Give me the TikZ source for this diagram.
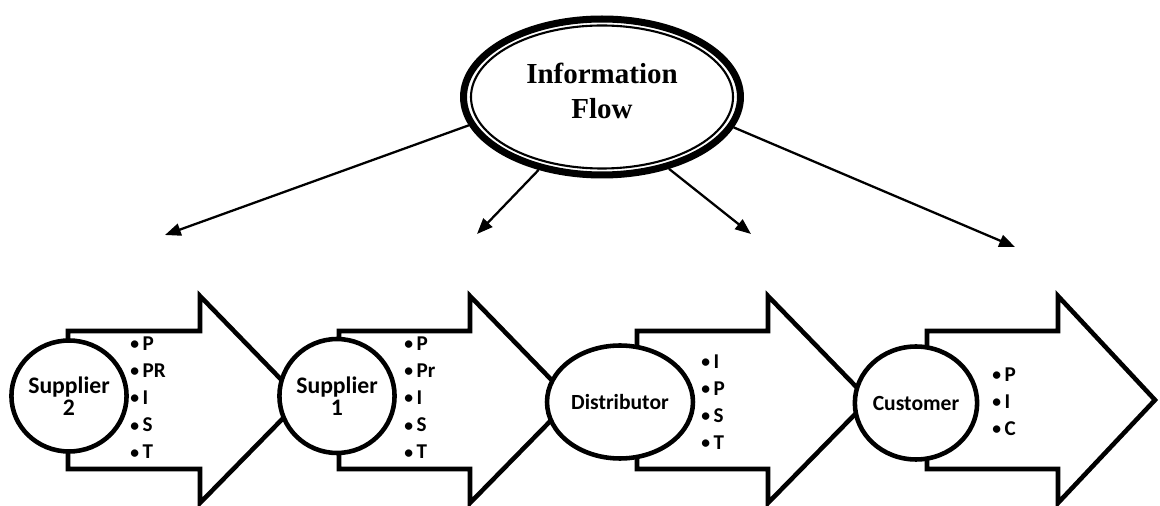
\documentclass[tikz,border=0pt]{standalone}
\usepackage{fontspec}
\setmainfont{Carlito}
\newfontfamily\headfont{Liberation Serif}
\usetikzlibrary{positioning,shapes.geometric,arrows.meta}

\tikzset{
	stage/.style={draw, ellipse, line width=2.6pt, fill=white, align=center, inner sep=0pt, font=\bfseries\fontsize{12.3}{13}\selectfont},
	arrowbox/.style={draw, line width=2.6pt, fill=white, line join=miter},
	itemlist/.style={anchor=west, align=left, inner sep=0pt, font=\bfseries\fontsize{12}{15.4}\selectfont},
	flowline/.style={line width=1.3pt, -{Triangle[length=9pt,width=7pt]}}
}

% one bullet item
\newcommand{\itm}[1]{\raisebox{0.5pt}{\fontsize{10}{10}\selectfont•}\hspace{2pt}#1}

% block arrow: left end, start of head, tip
\newcommand{\blockarrow}[3]{%
	\draw[arrowbox] (#1,331) -- (#2,331) -- (#2,296) -- (#3,400) -- (#2,503) -- (#2,469) -- (#1,469) -- cycle;}

\begin{document}
\begin{tikzpicture}[x=0.02cm, y=-0.02cm]
		
		\useasboundingbox (0,0) rectangle (1160,506);
		
		% Draw the block arrows
		\blockarrow{68}{200}{301}
		\blockarrow{339}{470}{571}
		\blockarrow{637}{768}{869}
		\blockarrow{927}{1058}{1155}
		
		% Draw the stages
		\node[stage, minimum width=2.28cm, minimum height=2.22cm, font=\bfseries\fontsize{13.5}{12.8}\selectfont] (sup2) at (69,396) {Supplier\\2};
		\node[stage, minimum width=2.14cm, minimum height=2.28cm, font=\bfseries\fontsize{13.5}{12.8}\selectfont] (sup1) at (337,396) {Supplier\\1};
		\node[stage, minimum width=2.92cm, minimum height=2.26cm] (dist) at (620,402) {Distributor};
		\node[stage, minimum width=2.36cm, minimum height=2.26cm] (cust) at (916,403) {Customer};
		
		% Place the lists
		\node[itemlist] (sup2list) at (130,398) {\itm{P}\\\itm{PR}\\\itm{I}\\\itm{S}\\\itm{T}};
		\node[itemlist] (sup1list) at (404,398) {\itm{P}\\\itm{Pr}\\\itm{I}\\\itm{S}\\\itm{T}};
		\node[itemlist] (distlist) at (701,402) {\itm{I}\\\itm{P}\\\itm{S}\\\itm{T}};
		\node[itemlist] (custlist) at (992,402) {\itm{P}\\\itm{I}\\\itm{C}};
		
		% Information flow
		\node[draw, ellipse, line width=4pt, minimum width=5.54cm, minimum height=3.12cm, align=center, inner sep=0pt, text depth=7pt, font=\headfont\bfseries\fontsize{16.5}{20}\selectfont] (info) at (602,97) {Information\\Flow};
		\draw[line width=1.2pt] (info.center) ellipse [x radius=131, y radius=71.5];
		
		\coordinate (endA) at (165,235);
		\coordinate (endB) at (477,234);
		\coordinate (endC) at (751,234);
		\coordinate (endD) at (1015,247);
		
		\draw[flowline] (info.192) -- (endA);
		\draw[flowline] (info.229) -- (endB);
		\draw[flowline] (info.313) -- (endC);
		\draw[flowline] (info.347) -- (endD);
		
	\end{tikzpicture}
\end{document}
